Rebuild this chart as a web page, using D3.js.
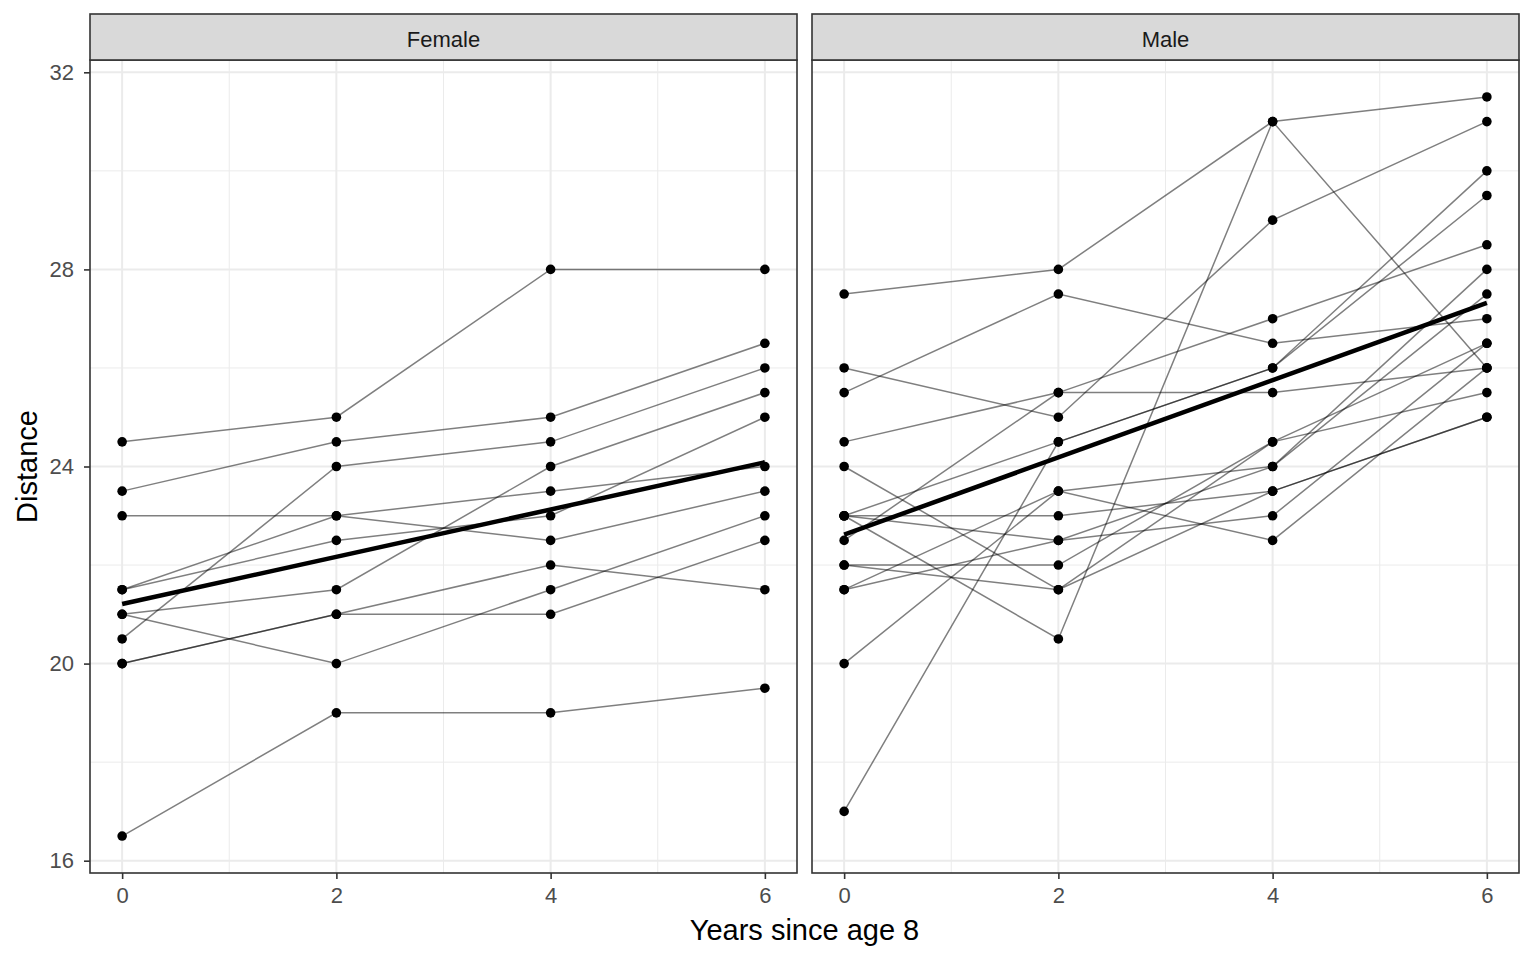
<!DOCTYPE html>
<html>
<head>
<meta charset="utf-8">
<script src="https://cdn.jsdelivr.net/npm/d3@7"></script>
<style>
  body { margin: 0; background: #fff; }
  svg { font-family: Arial, "Liberation Sans", sans-serif; }
</style>
</head>
<body>
<svg id="chart" width="1536" height="960"></svg>
<script>
// Orthodont data: distance at ages 8, 10, 12, 14 (years since age 8: 0, 2, 4, 6)
var years = [0, 2, 4, 6];
var panels = ["Female", "Male"];

var female = [
  [21, 20, 21.5, 23],
  [21, 21.5, 24, 25.5],
  [20.5, 24, 24.5, 26],
  [23.5, 24.5, 25, 26.5],
  [21.5, 23, 22.5, 23.5],
  [20, 21, 21, 22.5],
  [21.5, 22.5, 23, 25],
  [23, 23, 23.5, 24],
  [20, 21, 22, 21.5],
  [16.5, 19, 19, 19.5],
  [24.5, 25, 28, 28]
];

var male = [
  [26, 25, 29, 31],
  [21.5, 22.5, 23, 26.5],
  [23, 22.5, 24, 27.5],
  [25.5, 27.5, 26.5, 27],
  [20, 23.5, 22.5, 26],
  [24.5, 25.5, 27, 28.5],
  [22, 22, 24.5, 26.5],
  [24, 21.5, 24.5, 25.5],
  [23, 20.5, 31, 26],
  [27.5, 28, 31, 31.5],
  [23, 23, 23.5, 25],
  [21.5, 23.5, 24, 28],
  [17, 24.5, 26, 29.5],
  [22.5, 25.5, 25.5, 26],
  [23, 24.5, 26, 30],
  [22, 21.5, 23.5, 25]
];

var yTicks = [16, 20, 24, 28, 32];
var yMinor = [18, 22, 26, 30];
var xTicks = [0, 2, 4, 6];
var xMinor = [1, 3, 5];

var svg = d3.select("#chart");

// layout
var panelTop = 60, panelBottom = 873, stripTop = 14;
var panelLeft = [90, 812], panelWidth = 707;

var y = d3.scaleLinear().domain([15.75, 32.25]).range([panelBottom, panelTop]);

// least squares fit for the thick line
function fit(rows) {
  var pts = [];
  rows.forEach(function(r) { r.forEach(function(v, i) { pts.push([years[i], v]); }); });
  var mx = d3.mean(pts, function(p) { return p[0]; });
  var my = d3.mean(pts, function(p) { return p[1]; });
  var sxy = d3.sum(pts, function(p) { return (p[0] - mx) * (p[1] - my); });
  var sxx = d3.sum(pts, function(p) { return (p[0] - mx) * (p[0] - mx); });
  var b = sxy / sxx, a = my - b * mx;
  return [[0, a], [6, a + b * 6]];
}

var groups = [female, male];

panels.forEach(function(name, pi) {
  var x0 = panelLeft[pi];
  var x = d3.scaleLinear().domain([-0.3, 6.3]).range([x0, x0 + panelWidth]);
  var g = svg.append("g");

  // minor grid
  g.selectAll(".ymin").data(yMinor).enter().append("line")
    .attr("x1", x0).attr("x2", x0 + panelWidth)
    .attr("y1", function(d) { return y(d); }).attr("y2", function(d) { return y(d); })
    .attr("stroke", "#EBEBEB").attr("stroke-width", 1);
  g.selectAll(".xmin").data(xMinor).enter().append("line")
    .attr("y1", panelTop).attr("y2", panelBottom)
    .attr("x1", function(d) { return x(d); }).attr("x2", function(d) { return x(d); })
    .attr("stroke", "#EBEBEB").attr("stroke-width", 1);
  // major grid
  g.selectAll(".ymaj").data(yTicks).enter().append("line")
    .attr("x1", x0).attr("x2", x0 + panelWidth)
    .attr("y1", function(d) { return y(d); }).attr("y2", function(d) { return y(d); })
    .attr("stroke", "#EBEBEB").attr("stroke-width", 2);
  g.selectAll(".xmaj").data(xTicks).enter().append("line")
    .attr("y1", panelTop).attr("y2", panelBottom)
    .attr("x1", function(d) { return x(d); }).attr("x2", function(d) { return x(d); })
    .attr("stroke", "#EBEBEB").attr("stroke-width", 2);

  var rows = groups[pi];
  var line = d3.line()
    .x(function(d, i) { return x(years[i]); })
    .y(function(d) { return y(d); });

  // individual trajectories
  g.selectAll(".subj").data(rows).enter().append("path")
    .attr("d", line)
    .attr("fill", "none")
    .attr("stroke", "#000")
    .attr("stroke-opacity", 0.5)
    .attr("stroke-width", 1.5);

  // points
  rows.forEach(function(r) {
    g.selectAll(null).data(r).enter().append("circle")
      .attr("cx", function(d, i) { return x(years[i]); })
      .attr("cy", function(d) { return y(d); })
      .attr("r", 4.8)
      .attr("fill", "#000");
  });

  // regression line
  var f = fit(rows);
  g.append("path")
    .attr("d", d3.line().x(function(d) { return x(d[0]); }).y(function(d) { return y(d[1]); })(f))
    .attr("fill", "none").attr("stroke", "#000").attr("stroke-width", 4.5);

  // panel border
  g.append("rect")
    .attr("x", x0).attr("y", panelTop)
    .attr("width", panelWidth).attr("height", panelBottom - panelTop)
    .attr("fill", "none").attr("stroke", "#333333").attr("stroke-width", 1.6);

  // strip
  g.append("rect")
    .attr("x", x0).attr("y", stripTop)
    .attr("width", panelWidth).attr("height", panelTop - stripTop)
    .attr("fill", "#D9D9D9").attr("stroke", "#333333").attr("stroke-width", 1.6);
  g.append("text")
    .attr("x", x0 + panelWidth / 2).attr("y", (stripTop + panelTop) / 2 + 2)
    .attr("dy", "0.35em").attr("text-anchor", "middle")
    .style("font-size", "22px").attr("fill", "#1A1A1A")
    .text(name);

  // x axis
  var xAxis = g.append("g")
    .attr("transform", "translate(0," + panelBottom + ")")
    .call(d3.axisBottom(x).tickValues(xTicks).tickSize(6).tickPadding(8).tickFormat(d3.format("d")));
  xAxis.select(".domain").remove();
  xAxis.selectAll("line").attr("stroke", "#333333").attr("stroke-width", 1.6);
  xAxis.selectAll("text").attr("fill", "#4D4D4D")
    .style("font-size", "22px")
    .style("font-family", "Arial, 'Liberation Sans', sans-serif");

  // y axis only on first panel
  if (pi === 0) {
    var yAxis = g.append("g")
      .attr("transform", "translate(" + x0 + ",0)")
      .call(d3.axisLeft(y).tickValues(yTicks).tickSize(6).tickPadding(10));
    yAxis.select(".domain").remove();
    yAxis.selectAll("line").attr("stroke", "#333333").attr("stroke-width", 1.6);
    yAxis.selectAll("text").attr("fill", "#4D4D4D")
      .style("font-size", "22px")
      .style("font-family", "Arial, 'Liberation Sans', sans-serif");
  }
});

// axis titles
svg.append("text")
  .attr("x", (panelLeft[0] + panelLeft[1] + panelWidth) / 2).attr("y", 940)
  .attr("text-anchor", "middle").style("font-size", "29px").attr("fill", "#000")
  .text("Years since age 8");

svg.append("text")
  .attr("transform", "translate(37," + ((panelTop + panelBottom) / 2) + ") rotate(-90)")
  .attr("text-anchor", "middle").style("font-size", "29px").attr("fill", "#000")
  .text("Distance");
</script>
</body>
</html>
